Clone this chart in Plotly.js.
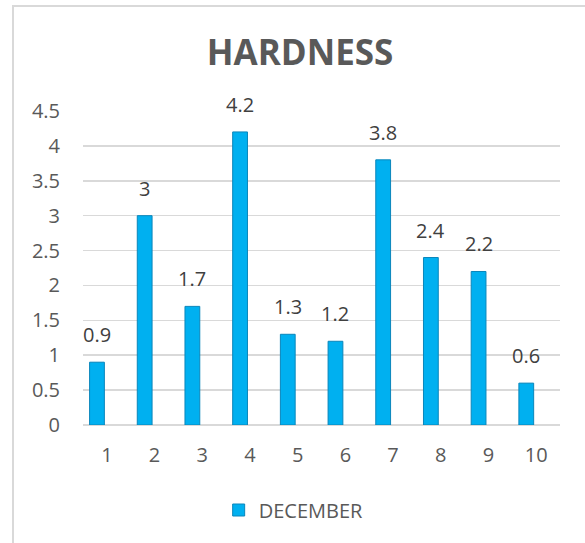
<!DOCTYPE html>
<html>
<head>
<meta charset="utf-8">
<script src="https://cdn.plot.ly/plotly-3.0.1.min.js"></script>
<style>
  html, body { margin: 0; padding: 0; background: #ffffff; }
  #wrap { position: relative; width: 585px; height: 543px; overflow: hidden; }
  #frame { position: absolute; left: 12px; top: 5px; width: 600px; height: 560px;
           border-left: 2px solid #d9d9d9; border-top: 2px solid #d9d9d9; box-sizing: border-box; }
  #chart { position: absolute; left: 0; top: 0; width: 585px; height: 543px; }
</style>
</head>
<body>
<div id="wrap">
  <div id="frame"></div>
  <div id="chart"></div>
</div>
<script>
const categories = [1, 2, 3, 4, 5, 6, 7, 8, 9, 10];
const hardness = [0.9, 3, 1.7, 4.2, 1.3, 1.2, 3.8, 2.4, 2.2, 0.6];
const seriesName = "DECEMBER";
const chartTitle = "HARDNESS";
const yTicks = [0, 0.5, 1, 1.5, 2, 2.5, 3, 3.5, 4, 4.5];
const yTickText = ["0", "0.5", "1", "1.5", "2", "2.5", "3", "3.5", "4", "4.5"];

const FONT = "Open Sans, Lato, sans-serif";
const TXT = "#595959";
const barWidth = 0.31;
const barShift = -0.207;

const trace = {
  type: "bar",
  x: categories,
  y: hardness,
  name: seriesName,
  width: barWidth,
  offset: -barWidth / 2 + barShift,
  marker: { color: "#00b0f0", line: { color: "#0a86bb", width: 1 } },
  hoverinfo: "x+y",
  showlegend: true
};

const annotations = categories.map((c, i) => ({
  x: c + barShift, y: hardness[i], xref: "x", yref: "y",
  text: String(hardness[i]), showarrow: false,
  yanchor: "bottom", yshift: 12,
  font: { family: FONT, size: 20, color: "#404040" }
}));

const layout = {
  width: 585, height: 543,
  paper_bgcolor: "rgba(0,0,0,0)", plot_bgcolor: "rgba(0,0,0,0)",
  margin: { l: 83, r: 25, t: 111, b: 118 },
  title: {
    text: "<b>" + chartTitle + "</b>",
    x: 0.513, xref: "container", xanchor: "center",
    y: 1 - 53 / 543, yref: "container", yanchor: "middle",
    font: { family: FONT, size: 35, color: TXT }
  },
  xaxis: {
    range: [0.5, 10.5], tickvals: categories, ticktext: categories.map(String),
    showgrid: false, zeroline: false, showline: false, ticks: "",
    ticklabelstandoff: 16,
    tickfont: { family: FONT, size: 20, color: TXT }
  },
  yaxis: {
    range: [0, 4.5], tickvals: yTicks, ticktext: yTickText,
    showgrid: true, gridcolor: "#d9d9d9", gridwidth: 1.5,
    zeroline: true, zerolinecolor: "#d9d9d9", zerolinewidth: 1.5,
    showline: false, ticks: "", ticklabelstandoff: 22,
    tickfont: { family: FONT, size: 20, color: TXT }
  },
  legend: {
    orientation: "h", xref: "container", yref: "container",
    x: 0.502, xanchor: "center", y: 1 - 510 / 543, yanchor: "middle",
    font: { family: FONT, size: 20, color: TXT },
    itemwidth: 30
  },
  annotations: annotations,
  showlegend: true
};

Plotly.newPlot("chart", [trace], layout, { displayModeBar: false, staticPlot: true });
</script>
</body>
</html>
